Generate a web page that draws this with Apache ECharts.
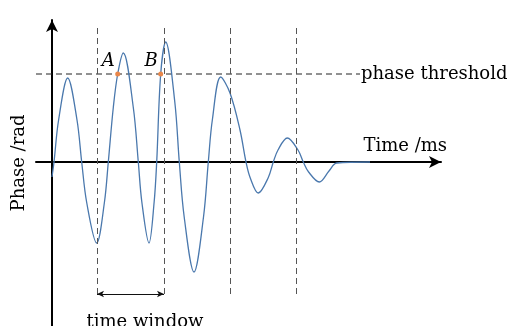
<!DOCTYPE html>
<html>
<head>
<meta charset="utf-8">
<script src="https://cdn.jsdelivr.net/npm/echarts@6/dist/echarts.min.js"></script>
<style>
  html, body { margin: 0; padding: 0; background: #ffffff; }
  #chart { width: 509px; height: 326px; }
</style>
</head>
<body>
<div id="chart"></div>
<script>
// Damped phase response: turning points, flank samples and axis crossings
const timeMs = [
  0, 0.2, 0.66, 1.57, 2.50, 2.97, 3.47, 4.47, 5.24, 5.63, 6.13, 6.57, 7.13, 8.13, 8.63,
  8.99, 9.7, 10.21, 10.47, 10.87, 11.37, 12.28, 12.73, 13.22, 14.2, 15.15, 15.63,
  16.04, 16.87, 17.8, 18.8, 19.4, 19.81, 20.63, 21.63, 22.13, 22.6, 23.53, 24.6,
  25.13, 25.66, 26.73, 27.7, 28.47, 31.8
];
const phaseRad = [
  -0.15, 0, 0.42, 0.84, 0.42, 0, -0.405, -0.81, -0.405, 0, 0.545, 0.88, 1.09, 0.545, 0,
  -0.405, -0.81, -0.405, 0, 0.88, 1.20, 0.60, 0, -0.55, -1.10, -0.55, 0,
  0.425, 0.85, 0.69, 0.32, 0, -0.155, -0.31, -0.155, 0, 0.12, 0.24, 0.12,
  0, -0.10, -0.20, -0.09, -0.01, 0
];

// Threshold level and the span of its dashed guide
const thresholdPhase = 0.88;
const thresholdSpan = [-1.6, 30.8];
const thresholdLabel = 'phase threshold';

// Threshold crossings marked on the curve
const crossingNames = ['A', 'B'];
const crossingTimes = [6.57, 10.87];

// Window boundaries (vertical dashed guides) and their vertical extent
const windowEdges = [4.5, 11.2, 17.8, 24.4];
const windowSpan = [-1.36, 1.34];
const windowArrowPhase = -1.32;
const windowLabel = 'time window';
const windowLabelPos = [9.3, -1.6];

// Axis titles
const xTitle = 'Time /ms';
const yTitle = 'Phase /rad';

const FONT = 'DejaVu Serif';
const curveData = timeMs.map((t, i) => [t, phaseRad[i]]);

const chart = echarts.init(document.getElementById('chart'), null, { renderer: 'canvas' });

chart.setOption({
  animation: false,
  backgroundColor: '#ffffff',
  grid: { left: 36, right: 68, top: 20, bottom: 0, containLabel: false, outerBoundsMode: 'none' },
  xAxis: {
    type: 'value', min: -1.6, max: 38.9,
    axisLine: { onZero: true, lineStyle: { color: '#000', width: 2 }, symbol: ['none', 'arrow'], symbolSize: [9, 12] },
    axisTick: { show: false }, axisLabel: { show: false }, splitLine: { show: false },
    name: xTitle, nameLocation: 'end', nameGap: 6,
    nameTextStyle: { fontFamily: FONT, fontSize: 18, color: '#000', align: 'right', verticalAlign: 'bottom', lineHeight: 18, padding: [0, 0, 7, 0] }
  },
  yAxis: {
    type: 'value', min: -1.64, max: 1.42,
    axisLine: { onZero: true, lineStyle: { color: '#000', width: 2 }, symbol: ['none', 'arrow'], symbolSize: [9, 12] },
    axisTick: { show: false }, axisLabel: { show: false }, splitLine: { show: false },
    name: yTitle, nameLocation: 'middle', nameGap: 8, nameRotate: 90,
    nameTextStyle: { fontFamily: FONT, fontSize: 18, color: '#000', padding: [0, 0, 0, 20] }
  },
  series: [
    {
      name: 'threshold', type: 'line', silent: true, symbol: 'none',
      data: thresholdSpan.map(t => [t, thresholdPhase]),
      lineStyle: { color: '#222', width: 1, type: [6, 4] },
      z: 2
    },
    {
      name: 'windows', type: 'line', silent: true, symbol: 'none', data: [],
      markLine: {
        silent: true, symbol: ['none', 'none'], label: { show: false },
        lineStyle: { color: '#555', width: 1, type: [6, 4] },
        data: windowEdges.map(t => [{ coord: [t, windowSpan[1]] }, { coord: [t, windowSpan[0]] }])
      },
      z: 2
    },
    {
      name: 'window span', type: 'line', silent: true, symbol: 'none', data: [],
      markLine: {
        silent: true, symbol: ['arrow', 'arrow'], symbolSize: [5, 7], label: { show: false },
        lineStyle: { color: '#111', width: 1, type: 'solid' },
        data: [[{ coord: [windowEdges[0], windowArrowPhase] }, { coord: [windowEdges[1], windowArrowPhase] }]]
      },
      z: 3
    },
    {
      name: 'phase', type: 'line', smooth: 0.35, symbol: 'none',
      data: curveData,
      lineStyle: { color: '#4a78ad', width: 1.3 },
      z: 4
    },
    {
      name: 'crossings', type: 'scatter', symbolSize: 5,
      itemStyle: { color: '#e9874a', opacity: 1 },
      data: crossingTimes.map((t, i) => ({ value: [t, thresholdPhase], name: crossingNames[i] })),
      label: {
        show: true, position: 'inside', formatter: p => p.name,
        fontFamily: FONT, fontStyle: 'italic', fontSize: 18, color: '#000',
        align: 'right', verticalAlign: 'middle', offset: [-3, -12.5]
      },
      z: 5
    },
    {
      name: 'notes', type: 'scatter', symbolSize: 0, silent: true,
      itemStyle: { opacity: 1 },
      data: [
        { value: [thresholdSpan[1], thresholdPhase], name: thresholdLabel, label: { position: 'right', distance: 1 } },
        { value: windowLabelPos, name: windowLabel, label: { position: 'inside', align: 'center' } }
      ],
      label: {
        show: true, formatter: p => p.name,
        fontFamily: FONT, fontSize: 18, color: '#000', verticalAlign: 'middle'
      },
      z: 5
    }
  ]
});
</script>
</body>
</html>
